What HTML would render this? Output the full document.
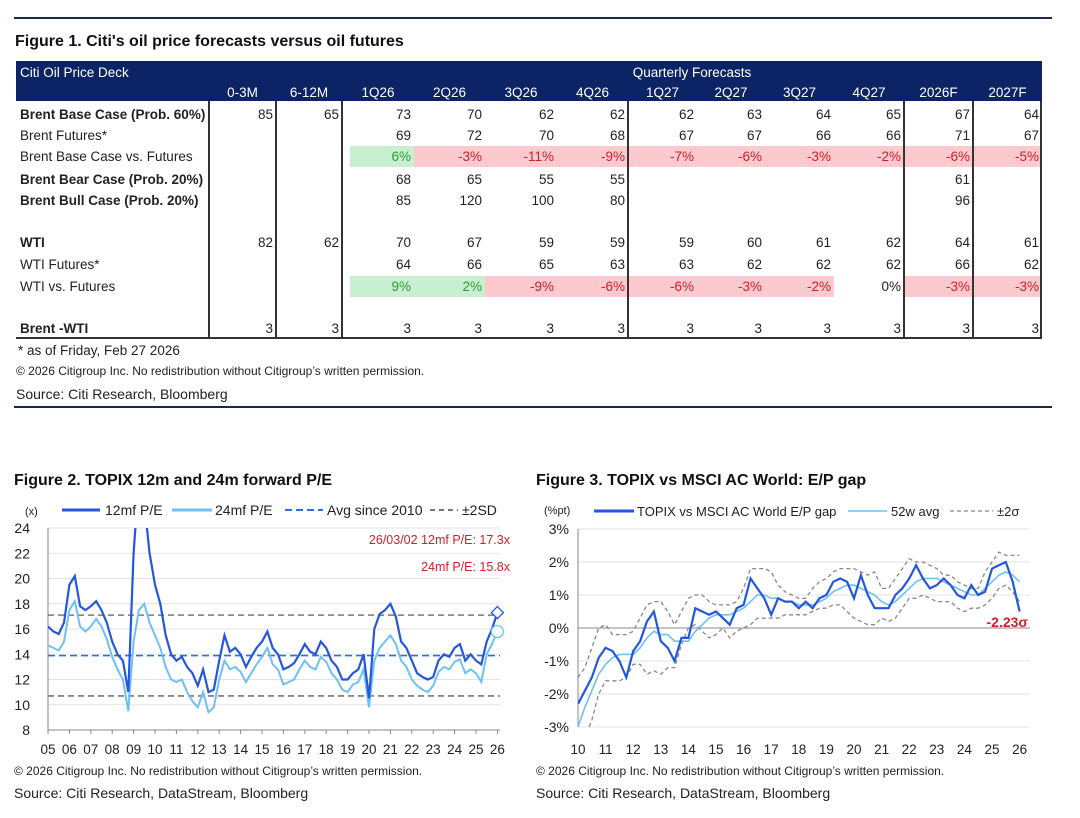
<!DOCTYPE html>
<html><head><meta charset="utf-8">
<style>
body{margin:0;width:1080px;height:818px;background:#fff;position:relative;overflow:hidden;font-family:"Liberation Sans",sans-serif;color:#222}
.abs{position:absolute;white-space:nowrap}
.t{font-size:13.5px;line-height:21px;height:21px}
svg text{font-family:"Liberation Sans",sans-serif}
</style></head><body>
<div class="abs" style="left:14px;top:17px;width:1038px;height:2px;background:#1b2a4a"></div>
<div class="abs" style="left:15px;top:33px;font-size:16px;font-weight:bold;color:#111">Figure 1. Citi's oil price forecasts versus oil futures</div>
<div class="abs" style="left:16px;top:61px;width:1026px;height:40px;background:#0c2466"></div>
<div class="abs" style="left:16px;top:337px;width:1026px;height:2px;background:#333"></div>
<div id="tbl"></div>
<div class="abs" style="left:18px;top:343px;font-size:13.5px">* as of Friday, Feb 27 2026</div>
<div class="abs" style="left:16px;top:364px;font-size:12px">© 2026 Citigroup Inc. No redistribution without Citigroup’s written permission.</div>
<div class="abs" style="left:16px;top:386px;font-size:14px">Source: Citi Research, Bloomberg</div>
<div class="abs" style="left:14px;top:406px;width:1038px;height:2px;background:#1b2a4a"></div>

<div class="abs" style="left:14px;top:472px;font-size:16px;font-weight:bold;color:#111">Figure 2. TOPIX 12m and 24m forward P/E</div>
<div class="abs" style="left:536px;top:472px;font-size:16px;font-weight:bold;color:#111">Figure 3. TOPIX vs MSCI AC World: E/P gap</div>
<div class="abs" style="left:14px;top:764px;font-size:12px">© 2026 Citigroup Inc. No redistribution without Citigroup’s written permission.</div>
<div class="abs" style="left:14px;top:785px;font-size:14px">Source: Citi Research, DataStream, Bloomberg</div>
<div class="abs" style="left:536px;top:764px;font-size:12px">© 2026 Citigroup Inc. No redistribution without Citigroup’s written permission.</div>
<div class="abs" style="left:536px;top:785px;font-size:14px">Source: Citi Research, DataStream, Bloomberg</div>

<svg id="c2" class="abs" style="left:0;top:490px" width="530" height="270"></svg>
<svg id="c3" class="abs" style="left:530px;top:490px" width="530" height="270"></svg>

<script>
// ---------- Table ----------
const colEdges=[16,209,276,342,414,485,557,628,697,765,834,904,973,1042];
const colHeaders=["0-3M","6-12M","1Q26","2Q26","3Q26","4Q26","1Q27","2Q27","3Q27","4Q27","2026F","2027F"];
const rowLabels=["Brent Base Case (Prob. 60%)","Brent Futures*","Brent Base Case vs. Futures","Brent Bear Case (Prob. 20%)","Brent Bull Case (Prob. 20%)","","WTI","WTI Futures*","WTI vs. Futures","","Brent -WTI"];
const rowBold=[1,0,0,1,1,0,1,0,0,0,1];
const rowTops=[104,125,146,169,190,211,232,254,276,298,318];
const rowVals=[
["85","65","73","70","62","62","62","63","64","65","67","64"],
["","","69","72","70","68","67","67","66","66","71","67"],
["","","6%","-3%","-11%","-9%","-7%","-6%","-3%","-2%","-6%","-5%"],
["","","68","65","55","55","","","","","61",""],
["","","85","120","100","80","","","","","96",""],
[],
["82","62","70","67","59","59","59","60","61","62","64","61"],
["","","64","66","65","63","63","62","62","62","66","62"],
["","","9%","2%","-9%","-6%","-6%","-3%","-2%","0%","-3%","-3%"],
[],
["3","3","3","3","3","3","3","3","3","3","3","3"]];
const tbl=document.getElementById('tbl');
function mk(style,text){const d=document.createElement('div');d.className='abs t';d.style.cssText=style;if(text!==undefined)d.textContent=text;tbl.appendChild(d);return d;}
[[2,146],[8,276]].forEach(([ri,top])=>{
  rowVals[ri].forEach((v,ci)=>{
    if(!v||v==='0%')return;
    const pos=v[0]!=='-';
    const l=colEdges[ci+1]+(ci===2?8:0), r=colEdges[ci+2];
    const d=mk(`left:${l}px;top:${top}px;width:${r-l}px;background:${pos?'#c8efcf':'#fcc9ce'}`);
    
    
  });
});
let h=mk('left:20px;top:62px;color:#fff;font-size:13.5px','Citi Oil Price Deck');


h=mk('left:342px;width:700px;top:62px;color:#fff;text-align:center;font-size:13.5px','Quarterly Forecasts');


colHeaders.forEach((c,i)=>{
  const l=colEdges[i+1],r=colEdges[i+2];
  const d=mk(`left:${l}px;width:${r-l}px;top:82px;color:#fff;text-align:center`,c);
  
  
});
rowLabels.forEach((lab,ri)=>{
  if(lab){const d=mk(`left:20px;top:${rowTops[ri]}px;font-weight:${rowBold[ri]?'bold':'normal'}`,lab);
  
  }
  (rowVals[ri]||[]).forEach((v,ci)=>{
    if(!v)return;
    const r=colEdges[ci+2];
    let col='#222';
    if(ri===2||ri===8){col=v==='0%'?'#222':(v[0]==='-'?'#d0202a':'#2e9a3a');}
    const d=mk(`left:${r-70}px;width:67px;top:${rowTops[ri]}px;text-align:right;color:${col}`,v);
    
    
  });
});
[209,276,342,628,904,973,1041].forEach(x=>{
  const d=mk(`left:${x-1}px;top:101px;width:2px;height:237px;background:#333`);
  
  
});

// ---------- Chart 2 ----------
const peStart=2005;
const pe12=[16.2,15.8,15.6,16.5,19.5,20.2,17.8,17.5,17.8,18.2,17.5,16.5,15.0,14.0,13.5,11.0,22.0,28,26,22,19.5,18,15.5,14.0,13.5,13.8,13.0,12.5,11.5,12.8,11.0,11.2,13.5,15.5,14.2,14.5,14.0,13.0,13.8,14.5,15.0,15.8,14.5,14.0,12.8,13.0,13.3,14.0,14.8,14.2,14.0,15.0,14.5,13.5,13.0,12.0,12.0,12.5,12.8,14.0,10.5,16.0,17.2,17.5,18.0,17.0,15.0,14.5,13.5,12.5,12.2,12.0,12.2,13.5,14.0,13.8,14.5,14.8,13.5,14.0,13.5,13.2,15.0,16.0,17.3];
const pe24=[14.7,14.5,14.3,15.0,17.5,18.2,16.2,15.8,16.2,16.8,16.2,15.2,13.8,12.8,12.0,9.5,15.0,17.5,18.0,16.5,15.5,14.5,13.0,12.0,11.8,12.0,11.0,10.3,9.8,11.0,9.4,9.8,12.0,13.5,12.8,13.0,12.6,11.8,12.5,13.2,13.8,14.5,13.2,12.8,11.6,11.8,12.0,12.8,13.5,13.0,12.8,13.8,13.4,12.5,12.0,11.2,11.0,11.6,11.8,12.8,9.8,13.5,14.5,15.0,15.5,14.8,13.5,13.0,12.0,11.5,11.2,11.0,11.5,12.6,13.0,12.8,13.4,13.6,12.5,12.8,12.5,11.8,14.0,14.8,15.8];
const peAvg=13.9, peUp=17.1, peLo=10.7;
const peYTicks=[8,10,12,14,16,18,20,22,24];
const peXTicks=["05","06","07","08","09","10","11","12","13","14","15","16","17","18","19","20","21","22","23","24","25","26"];
const NS='http://www.w3.org/2000/svg';
function el(svg,tag,attrs,text){const e=document.createElementNS(NS,tag);for(const k in attrs)e.setAttribute(k,attrs[k]);if(text!==undefined)e.textContent=text;svg.appendChild(e);return e;}
const s2=document.getElementById('c2');
const x2=t=>48+(t-2005)*21.4, y2=v=>528+(24-v)*12.625-490;
let cp=el(s2,'clipPath',{id:'cp2'});el(cp,'rect',{x:48,y:y2(24),width:460,height:y2(8)-y2(24)});
peYTicks.forEach(v=>{
  if(v>8){const g=el(s2,'line',{x1:48,x2:500,y1:y2(v),y2:y2(v),stroke:'#e3e3e3','stroke-width':1});
  
  }
  const t=el(s2,'text',{x:30,y:y2(v)+5,'text-anchor':'end','font-size':14,fill:'#222'},v);
  
  
});
el(s2,'line',{x1:48,x2:48,y1:y2(24),y2:y2(8),stroke:'#888'});
el(s2,'line',{x1:48,x2:500,y1:y2(8),y2:y2(8),stroke:'#888'});
peXTicks.forEach((lab,i)=>{
  el(s2,'line',{x1:x2(2005+i),x2:x2(2005+i),y1:y2(8),y2:y2(8)+4,stroke:'#888'});
  const t=el(s2,'text',{x:x2(2005+i),y:264,'text-anchor':'middle','font-size':13.5,fill:'#222'},lab);
  
  
});
[[peUp,'#777','6,4'],[peLo,'#777','6,4'],[peAvg,'#2f6fe0','7,4']].forEach(([v,c,d])=>{
  const l=el(s2,'line',{x1:48,x2:500,y1:y2(v),y2:y2(v),stroke:c,'stroke-width':1.6,'stroke-dasharray':d});
  
  
});
function path(svg,arr,start,xf,yf){return arr.map((v,i)=>(i?'L':'M')+xf(start+i/4).toFixed(1)+','+yf(v).toFixed(1)).join('');}
let p=el(s2,'path',{d:path(s2,pe24,peStart,x2,y2),fill:'none',stroke:'#6ec1f5','stroke-width':2,'clip-path':'url(#cp2)'});


p=el(s2,'path',{d:path(s2,pe12,peStart,x2,y2),fill:'none',stroke:'#2457de','stroke-width':2.2,'clip-path':'url(#cp2)'});


const lt=2005+(pe12.length-1)/4;
let m=el(s2,'path',{d:`M${x2(lt)},${y2(pe12[pe12.length-1])-6}l6,6l-6,6l-6,-6z`,fill:'#fff',stroke:'#2457de','stroke-width':1.3});


m=el(s2,'circle',{cx:x2(lt),cy:y2(pe24[pe24.length-1]),r:6,fill:'#fff',stroke:'#6ec1f5','stroke-width':1.3});


let a=el(s2,'text',{x:510,y:54,'text-anchor':'end','font-size':12.5,fill:'#d0202a'},'26/03/02 12mf P/E: 17.3x');


a=el(s2,'text',{x:510,y:81,'text-anchor':'end','font-size':12.5,fill:'#d0202a'},'24mf P/E: 15.8x');


el(s2,'text',{x:25,y:25,'font-size':11,fill:'#222'},'(x)');
[[62,100,'#2457de',3,'','12mf P/E',105],[172,212,'#6ec1f5',3,'','24mf P/E',215],[285,323,'#2f6fe0',2,'7,4','Avg since 2010',327],[430,458,'#777',2,'5,4','±2SD',462]].forEach(([a1,a2,c,w,d,lab,tx])=>{
  const l=el(s2,'line',{x1:a1,x2:a2,y1:20,y2:20,stroke:c,'stroke-width':w,'stroke-dasharray':d||'none'});
  
  
  const t=el(s2,'text',{x:tx,y:25,'font-size':14,fill:'#222'},lab);
  
  
});

// ---------- Chart 3 ----------
const epStart=2010;
const epGap=[-2.3,-1.9,-1.5,-0.9,-0.6,-0.7,-1.0,-1.5,-0.7,-0.4,0.2,0.5,-0.4,-0.6,-1.0,-0.3,-0.3,0.6,0.5,0.4,0.5,0.3,0.1,0.6,0.7,1.5,1.2,0.9,0.4,0.9,0.8,0.8,0.6,0.8,0.6,0.9,1.0,1.4,1.5,1.4,0.9,1.6,1.0,0.6,0.6,0.6,1.0,1.2,1.5,1.9,1.5,1.2,1.3,1.5,1.3,1.0,0.9,1.3,1.0,1.1,1.8,1.9,2.0,1.4,0.5];
const epAvg=[-3.0,-2.4,-1.9,-1.4,-1.1,-0.9,-0.8,-0.8,-0.8,-0.6,-0.3,-0.1,-0.2,-0.2,-0.4,-0.4,-0.4,-0.1,0.1,0.3,0.4,0.4,0.4,0.5,0.6,0.8,1.0,1.0,0.9,0.9,0.8,0.8,0.7,0.7,0.7,0.8,0.9,1.1,1.2,1.3,1.3,1.2,1.1,1.0,0.8,0.7,0.8,1.0,1.2,1.4,1.5,1.5,1.5,1.4,1.3,1.2,1.1,1.0,1.0,1.2,1.4,1.6,1.7,1.6,1.4];
const epUpper=[-1.5,-1.2,-0.6,0.0,0.1,-0.2,-0.2,-0.2,-0.1,0.3,0.7,0.8,0.8,0.5,0.1,0.5,0.9,1.0,1.0,0.8,0.7,0.7,0.7,0.8,1.2,1.8,1.8,1.8,1.7,1.3,1.1,1.0,0.9,0.9,1.2,1.4,1.5,1.7,1.8,1.8,1.8,1.7,1.6,1.7,1.2,1.2,1.5,1.8,2.1,2.0,2.0,1.9,1.8,1.6,1.6,1.4,1.3,1.2,1.2,1.7,2.0,2.3,2.2,2.2,2.2];
const epLower=[-4,-3.3,-2.8,-2.0,-1.6,-1.6,-1.6,-1.5,-1.1,-1.1,-1.4,-1.3,-1.4,-1.2,-1.2,-0.5,0.0,0.1,-0.1,-0.3,-0.2,0.0,-0.3,-0.1,0.0,0.1,0.3,0.3,0.3,0.3,0.4,0.4,0.4,0.4,0.5,0.6,0.6,0.7,0.7,0.5,0.3,0.2,0.1,0.1,0.3,0.2,0.3,0.6,0.9,0.9,1.0,0.9,0.8,0.8,0.8,0.6,0.5,0.6,0.6,0.7,0.9,1.2,1.3,1.1,0.8];
const epYTicks=[-3,-2,-1,0,1,2,3];
const epXTicks=["10","11","12","13","14","15","16","17","18","19","20","21","22","23","24","25","26"];
const s3=document.getElementById('c3');
const x3=t=>48+(t-2010)*27.6, y3=v=>138-v*33;
cp=el(s3,'clipPath',{id:'cp3'});el(cp,'rect',{x:48,y:y3(3),width:460,height:y3(-3)-y3(3)});
epYTicks.forEach(v=>{
  const g=el(s3,'line',{x1:48,x2:500,y1:y3(v),y2:y3(v),stroke:v===0?'#888':'#e3e3e3','stroke-width':1});
  
  
  const t=el(s3,'text',{x:39,y:y3(v)+5,'text-anchor':'end','font-size':14,fill:'#222'},v+'%');
  
  
});
el(s3,'line',{x1:48,x2:48,y1:y3(3),y2:y3(-3),stroke:'#888'});
epXTicks.forEach((lab,i)=>{
  const t=el(s3,'text',{x:x3(2010+i),y:264,'text-anchor':'middle','font-size':13.5,fill:'#222'},lab);
  
  
});
[[epUpper,'band-upper'],[epLower,'band-lower']].forEach(([arr,n])=>{
  const q=el(s3,'path',{d:path(s3,arr,epStart,x3,y3),fill:'none',stroke:'#888','stroke-width':1.3,'stroke-dasharray':'4,3','clip-path':'url(#cp3)'});
  
  
});
p=el(s3,'path',{d:path(s3,epAvg,epStart,x3,y3),fill:'none',stroke:'#6ec1f5','stroke-width':1.6,'clip-path':'url(#cp3)'});


p=el(s3,'path',{d:path(s3,epGap,epStart,x3,y3),fill:'none',stroke:'#2457de','stroke-width':2.2,'clip-path':'url(#cp3)'});


a=el(s3,'text',{x:498,y:137,'text-anchor':'end','font-size':14,'font-weight':'bold',fill:'#d0202a'},'-2.23σ');


el(s3,'text',{x:14,y:24,'font-size':11,fill:'#222'},'(%pt)');
[[64,104,'#2457de',3,'','TOPIX vs MSCI AC World E/P gap',107],[318,357,'#6ec1f5',1.6,'','52w avg',361],[420,463,'#888',1.3,'4,3','±2σ',467]].forEach(([a1,a2,c,w,d,lab,tx])=>{
  const l=el(s3,'line',{x1:a1,x2:a2,y1:21,y2:21,stroke:c,'stroke-width':w,'stroke-dasharray':d||'none'});
  
  
  const t=el(s3,'text',{x:tx,y:26,'font-size':13,fill:'#222'},lab);
  
  
});
</script>
</body></html>
